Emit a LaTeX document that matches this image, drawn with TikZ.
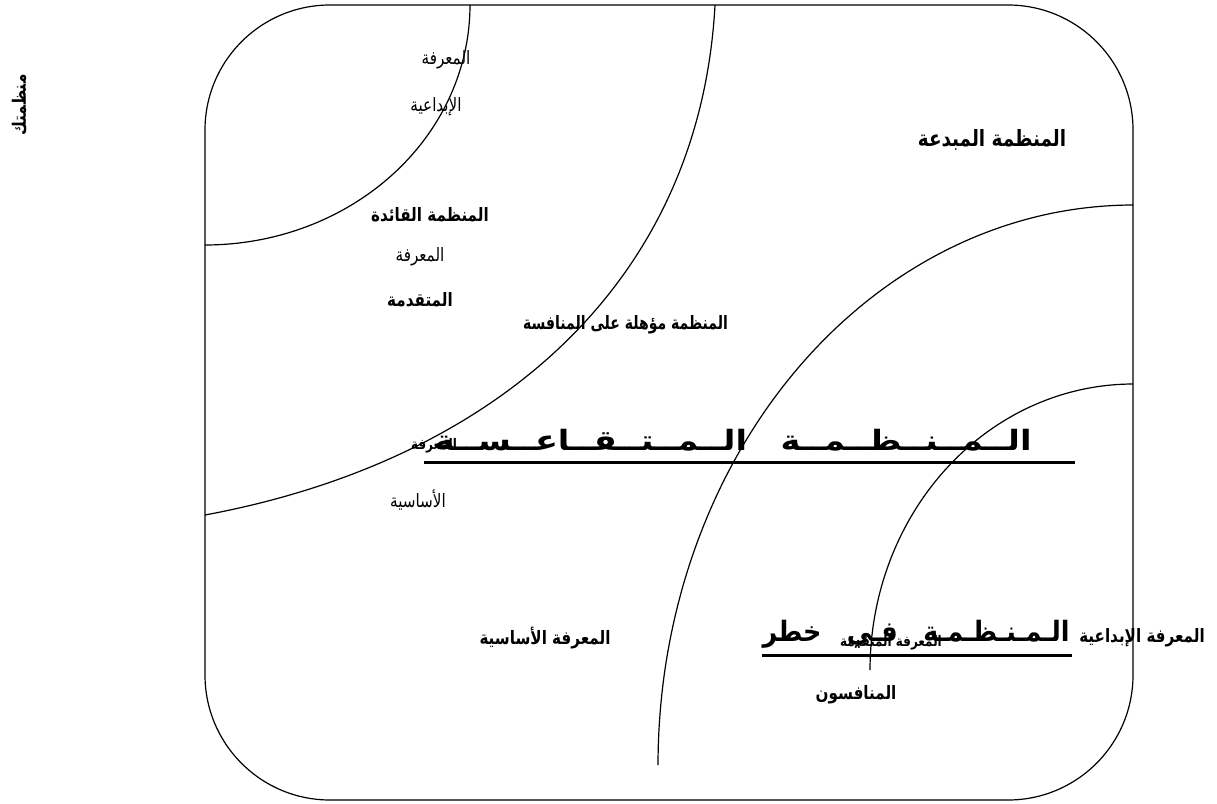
\documentclass[tikz,border=0pt]{standalone}
\usepackage{fontspec}
\newfontfamily\arabicfont[Script=Arabic]{DejaVu Sans}
\TeXXeTstate=1
\newcommand{\AR}[1]{\scalebox{0.92}[1.12]{\beginR #1\endR}}
\begin{document}
\begin{tikzpicture}[x=1pt,y=-1pt,
  reg/.style={inner sep=0pt, font=\arabicfont\fontsize{16.5}{19}\selectfont},
  bld/.style={inner sep=0pt, font=\arabicfont\bfseries\fontsize{16.5}{19}\selectfont},
  bigbld/.style={inner sep=0pt, font=\arabicfont\bfseries\fontsize{20}{24}\selectfont},
  sml/.style={inner sep=0pt, font=\arabicfont\bfseries\fontsize{13}{15}\selectfont},
  big/.style={inner sep=0pt, font=\arabicfont\bfseries\fontsize{28}{32}\selectfont},
  edge/.style={line width=1.2pt},
  uline/.style={line width=3pt}]
\useasboundingbox (0,0) rectangle (1217,803);
% frame
\draw[edge, rounded corners=125pt] (205,5) rectangle (1133,800);
% arcs
\draw[edge] plot[domain=0:90, samples=80] ({205+265*cos(\x)},{5+240*sin(\x)});
\draw[edge] (715,5) .. controls (700,280) and (500,460) .. (205,515);
\draw[edge] plot[domain=90:180, samples=100] ({1133+475*cos(\x)},{765-560*sin(\x)});
\draw[edge] plot[domain=90:180, samples=80] ({1133+263*cos(\x)},{670-286*sin(\x)});
% labels
\node[bld, rotate=90] (side) at (19,105) {\AR{منظمتك}};
\node[reg] (k1) at (446,60) {\AR{المعرفة}};
\node[reg] (k2) at (436,107) {\AR{الإبداعية}};
\node[bld] (o1) at (430,215) {\AR{المنظمة القائدة}};
\node[reg] (k3) at (420,257) {\AR{المعرفة}};
\node[bld] (k4) at (420,300) {\AR{المتقدمة}};
\node[bld, anchor=west] (o2) at (523,325) {\scalebox{0.85}[1.12]{\beginR المنظمة مؤهلة على المنافسة\endR}};
\node[big] (o3) at (733,440) {\resizebox{597pt}{\height}{\beginR الــمــنــظــمــة\quad الــمــتــقــاعــســة\endR}};
\coordinate (u1a) at (424,462);
\coordinate (u1b) at (1075,462);
\draw[uline] (u1a) -- (u1b);
\node[sml] (k5) at (434,446) {\AR{المعرفة}};
\node[reg] (k6) at (418,500) {\AR{الأساسية}};
\node[bigbld] (o4) at (992,140) {\AR{المنظمة المبدعة}};
\node[bld] (k7) at (545,638) {\AR{المعرفة الأساسية}};
\node[big] (o5) at (916,634) {\resizebox{307pt}{\height}{\beginR الـمـنـظـمـة\quad فـي\quad خطر\endR}};
\coordinate (u2a) at (762,655);
\coordinate (u2b) at (1072,655);
\draw[uline] (u2a) -- (u2b);
\node[sml] (k8) at (891,643) {\AR{المعرفة المتقدمة}};
\node[bld] (k9) at (1142,638) {\AR{المعرفة الإبداعية}};
\node[bld] (o6) at (856,695) {\AR{المنافسون}};
\end{tikzpicture}
\end{document}
